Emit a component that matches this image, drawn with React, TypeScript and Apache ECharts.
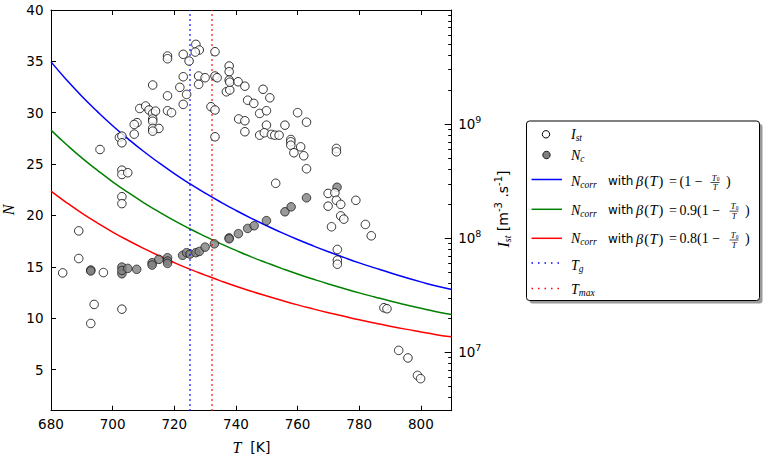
import React, { useEffect, useRef } from "react";
import * as echarts from "echarts";

// ---------------- data ----------------
const T_CURVE = [
  680, 685, 690, 695, 700, 705, 710, 715, 720, 725, 730, 735, 740, 745, 750,
  755, 760, 765, 770, 775, 780, 785, 790, 795, 800, 805, 810,
];
const N_CORR_B100 = [
  34.95, 33.22, 31.61, 30.13, 28.74, 27.46, 26.25, 25.13, 24.08, 23.1, 22.18,
  21.31, 20.49, 19.72, 19.0, 18.31, 17.66, 17.05, 16.47, 15.92, 15.39, 14.9,
  14.42, 13.97, 13.54, 13.13, 12.8,
];
const N_CORR_B090 = [
  28.31, 26.91, 25.6, 24.41, 23.28, 22.24, 21.26, 20.36, 19.5, 18.71, 17.97,
  17.26, 16.6, 15.97, 15.39, 14.83, 14.3, 13.81, 13.34, 12.9, 12.47, 12.07,
  11.68, 11.32, 10.97, 10.64, 10.37,
];
const N_CORR_B080 = [
  22.37, 21.26, 20.23, 19.28, 18.39, 17.57, 16.8, 16.08, 15.41, 14.78, 14.2,
  13.64, 13.11, 12.62, 12.16, 11.72, 11.3, 10.91, 10.54, 10.19, 9.85, 9.54,
  9.23, 8.94, 8.67, 8.4, 8.19,
];
const T_G = 725;
const T_MAX = 732;

// I_st [m^-3 s^-1] vs T [K]
const I_ST: [number, number][] = [
  [683.8, 4.97e7], [689.0, 1.16e8], [689.0, 6.64e7], [692.9, 1.79e7],
  [694.0, 2.63e7], [695.9, 5.99e8], [697.0, 5.0e7], [702.2, 7.64e8],
  [703.0, 7.85e8], [703.0, 6.86e8], [703.0, 3.95e8], [703.0, 3.62e8],
  [704.9, 3.75e8], [703.0, 2.31e8], [703.0, 2.01e8], [703.0, 2.39e7],
  [707.0, 8.17e8], [707.9, 1.03e9], [707.0, 9.93e8], [708.8, 1.37e9],
  [710.7, 1.44e9], [711.8, 1.33e9], [713.0, 1.24e9], [713.9, 1.3e9],
  [713.0, 1.11e9], [713.0, 1.06e9], [713.0, 9.16e8], [715.0, 9.16e8],
  [713.0, 8.68e8], [713.0, 2.2e9], [717.8, 1.77e9], [717.8, 1.31e9],
  [719.1, 1.26e9], [717.8, 3.95e9], [717.8, 3.74e9], [721.8, 2.1e9],
  [722.9, 2.6e9], [724.0, 1.82e9], [722.9, 1.49e9], [722.9, 4.09e9],
  [724.8, 3.57e9], [727.0, 5.0e9], [728.1, 4.46e9], [726.8, 4.28e9],
  [727.9, 2.64e9], [727.9, 2.23e9], [730.0, 2.55e9], [731.9, 1.42e9],
  [733.2, 1.33e9], [733.2, 7.74e8], [733.2, 4.31e9], [733.2, 2.64e9],
  [733.9, 2.55e9], [736.9, 1.92e9], [738.0, 1.99e9], [737.8, 3.23e9],
  [737.8, 2.88e9], [737.8, 2.43e9], [738.0, 2.33e9], [740.7, 2.35e9],
  [742.9, 2.15e9], [740.9, 1.11e9], [742.9, 1.07e9], [742.9, 8.57e8],
  [743.8, 1.62e9], [745.8, 1.52e9], [748.8, 2.02e9], [751.0, 1.7e9],
  [747.7, 1.24e9], [749.9, 1.31e9], [749.9, 9.79e8], [747.7, 8.0e8],
  [749.2, 8.4e8], [751.5, 8.12e8], [752.6, 8.0e8], [754.0, 8.0e8],
  [752.9, 3.03e8], [755.9, 9.79e8], [757.8, 7.33e8], [757.8, 7.0e8],
  [757.8, 6.54e8], [758.8, 5.61e8], [760.0, 1.26e9], [761.0, 6.32e8],
  [762.0, 5.28e8], [762.9, 1.04e9], [762.9, 4.06e8], [769.9, 2.47e8],
  [772.1, 2.5e8], [769.9, 1.91e8], [772.6, 6.12e8], [772.6, 5.72e8],
  [772.6, 2.15e8], [774.0, 1.98e8], [774.0, 1.57e8], [775.0, 1.47e8],
  [778.9, 2.15e8], [771.0, 1.26e8], [782.0, 1.32e8], [783.9, 1.05e8],
  [772.9, 7.97e7], [772.9, 6.42e7], [772.9, 5.92e7], [788.0, 2.46e7],
  [789.0, 2.41e7], [792.8, 1.04e7], [795.8, 8.93e6], [798.9, 6.28e6],
  [799.9, 5.88e6],
];

// N_c vs T [K]
const N_C: [number, number][] = [
  [692.9, 14.69], [692.9, 14.6], [703.0, 14.98], [703.0, 14.33],
  [703.0, 14.65], [704.9, 14.85], [707.8, 14.76], [712.8, 15.4],
  [712.8, 15.18], [715.0, 15.73], [717.8, 15.89], [717.8, 15.57],
  [717.8, 15.34], [722.7, 16.12], [724.0, 16.38], [725.1, 16.25],
  [727.0, 16.38], [728.1, 16.5], [730.0, 16.92], [733.0, 17.24],
  [737.8, 17.82], [737.8, 17.73], [740.8, 18.23], [743.8, 18.74],
  [745.9, 19.0], [749.9, 19.5], [755.9, 20.36], [757.9, 20.84],
  [762.9, 21.72], [772.8, 22.75],
];

// axes
const T_MIN = 680;
const T_MAX_AXIS = 810;
const X_TICKS = [680, 700, 720, 740, 760, 780, 800];
const N_MIN = 1;
const N_MAX = 40;
const N_TICKS = [5, 10, 15, 20, 25, 30, 35, 40];
const I_MIN = 3.08e6;
const I_MAX = 1e10;
const I_TICKS = [1e7, 1e8, 1e9];
const I_MINOR = [
  4e6, 5e6, 6e6, 7e6, 8e6, 9e6,
  2e7, 3e7, 4e7, 5e7, 6e7, 7e7, 8e7, 9e7,
  2e8, 3e8, 4e8, 5e8, 6e8, 7e8, 8e8, 9e8,
  2e9, 3e9, 4e9, 5e9, 6e9, 7e9, 8e9, 9e9,
];

// ---------------- styling ----------------
const SANS = "'DejaVu Sans', sans-serif";
const SERIF = "'Liberation Serif', 'Times New Roman', serif";
const BLUE = "#0000ff";
const GREEN = "#008000";
const RED = "#ff0000";

const richBase = {
  m: { fontFamily: SERIF, fontStyle: "italic", fontSize: 14, fill: "#000", color: "#000" },
  mb: { fontFamily: SERIF, fontStyle: "italic", fontSize: 14.5, fill: "#000", color: "#000" },
  r: { fontFamily: SERIF, fontStyle: "normal", fontSize: 14.5, padding: [0, 0.5, 0, 1], fill: "#000", color: "#000" },
  sub: { fontFamily: SERIF, fontStyle: "italic", fontSize: 9.5, padding: [7, 0, 0, 0], fill: "#000", color: "#000" },
};

function txt(x: number, y: number, text: string, opts: any = {}) {
  const align = opts.align || "left";
  const style: any = {
    text,
    fill: "#000",
    fontFamily: opts.fontFamily || SERIF,
    fontSize: opts.fontSize || 14,
    fontStyle: opts.fontStyle || "normal",
    align,
    textAlign: align,
    verticalAlign: "middle",
    textVerticalAlign: "middle",
    rich: opts.rich || richBase,
  };
  if (opts.lineHeight) style.lineHeight = opts.lineHeight;
  return {
    type: "text",
    x,
    y,
    rotation: opts.rotation || 0,
    z: 110,
    silent: true,
    style,
  };
}

function hline(x1: number, x2: number, y: number, color: string, width: number, dash?: number[]) {
  return {
    type: "line",
    z: 110,
    silent: true,
    shape: { x1, y1: y, x2, y2: y },
    style: { stroke: color, lineWidth: width, lineDash: dash || null },
  };
}

function fraction(cx: number, ty: number) {
  return [
    txt(cx - 1, ty - 3.6, "T", { align: "center", fontStyle: "italic", fontSize: 8.5, lineHeight: 7.5 }),
    txt(cx + 1.7, ty - 1.9, "0", { align: "left", fontSize: 5.5, lineHeight: 4.5 }),
    hline(cx - 4.5, cx + 4.5, ty + 1.2, "#000", 0.7),
    txt(cx, ty + 6, "T", { align: "center", fontStyle: "italic", fontSize: 8.5, lineHeight: 7.5 }),
  ];
}

function buildGraphic() {
  const g: any[] = [];
  // legend frame with shadow
  g.push({
    type: "rect", z: 100, silent: true,
    shape: { x: 529.5, y: 124, width: 233, height: 179.5, r: 3 },
    style: { fill: "#9a9a9a" },
  });
  g.push({
    type: "rect", z: 101, silent: true,
    shape: { x: 526.5, y: 121, width: 233, height: 179.5, r: 3 },
    style: { fill: "#fff", stroke: "#000", lineWidth: 1 },
  });
  // markers
  g.push({
    type: "circle", z: 110, silent: true,
    shape: { cx: 546, cy: 134.3, r: 3.7 },
    style: { fill: "#fff", stroke: "#000", lineWidth: 1 },
  });
  g.push({
    type: "circle", z: 110, silent: true,
    shape: { cx: 546.5, cy: 155, r: 3.7 },
    style: { fill: "#808080", stroke: "#1a1a1a", lineWidth: 1 },
  });
  g.push(hline(531.5, 562, 179.5, BLUE, 1.5));
  g.push(hline(531.5, 562, 209.3, GREEN, 1.5));
  g.push(hline(531.5, 562, 238.3, RED, 1.5));
  g.push(hline(531.5, 562, 263, BLUE, 1.5, [1.5, 5]));
  g.push(hline(531.5, 562, 288.5, RED, 1.5, [1.5, 5]));

  // legend texts
  g.push(txt(571, 134.5, "{m|I}{sub|st}"));
  g.push(txt(571, 155.5, "{m|N}{sub|c}"));
  const rows = [
    { ty: 181.3, coef: "(1 \u2212", fx: 715, px: 726 },
    { ty: 210, coef: "0.9(1 \u2212", fx: 734, px: 745 },
    { ty: 238.8, coef: "0.8(1 \u2212", fx: 734, px: 745 },
  ];
  rows.forEach((r) => {
    g.push(txt(571, r.ty, "{m|N}{sub|corr}"));
    g.push(txt(608, r.ty, "with", { fontFamily: SANS, fontSize: 12 }));
    g.push(txt(636, r.ty, "{mb|\u03b2}{r|(}{mb|T}{r|)}"));
    g.push(txt(669, r.ty, "=", { fontSize: 14 }));
    g.push(txt(679.5, r.ty, r.coef, { fontSize: 14 }));
    fraction(r.fx, r.ty).forEach((e) => g.push(e));
    g.push(txt(r.px, r.ty, ")", { fontSize: 14 }));
  });
  g.push(txt(571, 265.5, "{m|T}{sub|g}"));
  g.push(txt(571, 289, "{m|T}{sub|max}"));

  // axis titles
  g.push(
    txt(251.5, 447, "{it|T}  [K]", {
      align: "center",
      fontFamily: SANS,
      fontSize: 14,
      rich: { it: { fontFamily: SERIF, fontStyle: "italic", fontSize: 16, fill: "#000" } },
    })
  );
  g.push(
    txt(8, 210, "N", {
      align: "center",
      fontFamily: SERIF,
      fontStyle: "italic",
      fontSize: 16,
      rotation: Math.PI / 2,
    })
  );
  g.push(
    txt(503, 209, "{it|I}{sb|st} [m{sp|-3} .s{sp|-1}]", {
      align: "center",
      fontFamily: SANS,
      fontSize: 14,
      rotation: Math.PI / 2,
      rich: {
        it: { fontFamily: SERIF, fontStyle: "italic", fontSize: 16, fill: "#000" },
        sb: { fontFamily: SERIF, fontStyle: "italic", fontSize: 10, padding: [8, 0, 0, 0], fill: "#000" },
        sp: { fontFamily: SANS, fontSize: 10, padding: [0, 0, 10, 0], fill: "#000" },
      },
    })
  );
  return g;
}

const axisLine = { show: true, onZero: false, lineStyle: { color: "#000", width: 1 } };
const tickLine = { color: "#000", width: 1 };
const labelBase = { color: "#000", fontFamily: SANS, fontSize: 13.5 };

function buildOption() {
  const curve = (vals: number[], color: string, name: string) => ({
    type: "line",
    name,
    xAxisIndex: 0,
    yAxisIndex: 0,
    data: T_CURVE.map((t, i) => [t, vals[i]]),
    showSymbol: false,
    symbol: "none",
    smooth: true,
    silent: true,
    z: 3,
    lineStyle: { color, width: 1.5 },
  });
  const vline = (x: number, color: string, name: string) => ({
    type: "line",
    name,
    xAxisIndex: 0,
    yAxisIndex: 0,
    data: [],
    silent: true,
    z: 2,
    markLine: {
      silent: true,
      symbol: ["none", "none"],
      label: { show: false },
      lineStyle: { color, width: 1.5, type: [1.5, 3.5] },
      data: [{ xAxis: x }],
    },
  });
  return {
    animation: false,
    backgroundColor: "#fff",
    grid: { left: 51, top: 10, width: 400.7, height: 400.7, containLabel: false },
    xAxis: [
      {
        type: "value",
        position: "bottom",
        min: T_MIN,
        max: T_MAX_AXIS,
        interval: 20,
        axisLine,
        axisTick: { show: true, inside: true, length: 5, customValues: X_TICKS, lineStyle: tickLine },
        axisLabel: { ...labelBase, margin: 6, customValues: X_TICKS },
        splitLine: { show: false },
      },
      {
        type: "value",
        position: "top",
        min: T_MIN,
        max: T_MAX_AXIS,
        interval: 20,
        axisLine,
        axisTick: { show: true, inside: true, length: 5, customValues: X_TICKS, lineStyle: tickLine },
        axisLabel: { show: false },
        splitLine: { show: false },
      },
    ],
    yAxis: [
      {
        type: "value",
        position: "left",
        min: N_MIN,
        max: N_MAX,
        axisLine,
        axisTick: { show: true, inside: true, length: 5, customValues: N_TICKS, lineStyle: tickLine },
        axisLabel: { ...labelBase, margin: 7.5, customValues: N_TICKS },
        splitLine: { show: false },
      },
      {
        type: "log",
        logBase: 10,
        position: "right",
        min: I_MIN,
        max: I_MAX,
        axisLine,
        axisTick: { show: true, inside: true, length: 7, customValues: I_TICKS, lineStyle: tickLine },
        axisLabel: {
          ...labelBase,
          margin: 6.5,
          customValues: I_TICKS,
          formatter: (v: number) => "10{sup|" + Math.round(Math.log10(v)) + "}",
          rich: { sup: { color: "#000", fontFamily: SANS, fontSize: 9.5, padding: [0, 0, 10, 0] } },
        },
        splitLine: { show: false },
        minorTick: { show: false },
      },
      {
        type: "log",
        logBase: 10,
        position: "right",
        min: I_MIN,
        max: I_MAX,
        axisLine: { show: false },
        axisTick: { show: true, inside: true, length: 3.5, customValues: I_MINOR, lineStyle: tickLine },
        axisLabel: { show: false },
        splitLine: { show: false },
      },
    ],
    series: [
      vline(T_G, BLUE, "T_g"),
      vline(T_MAX, RED, "T_max"),
      curve(N_CORR_B100, BLUE, "N_corr (1-T0/T)"),
      curve(N_CORR_B090, GREEN, "N_corr 0.9(1-T0/T)"),
      curve(N_CORR_B080, RED, "N_corr 0.8(1-T0/T)"),
      {
        type: "scatter",
        name: "N_c",
        xAxisIndex: 0,
        yAxisIndex: 0,
        data: N_C,
        symbol: "circle",
        symbolSize: 8.5,
        silent: true,
        z: 4,
        itemStyle: { color: "#808080", borderColor: "#1a1a1a", borderWidth: 1 },
      },
      {
        type: "scatter",
        name: "I_st",
        xAxisIndex: 0,
        yAxisIndex: 1,
        data: I_ST,
        symbol: "circle",
        symbolSize: 8.5,
        silent: true,
        z: 5,
        itemStyle: { color: "#ffffff", borderColor: "#000", borderWidth: 1 },
      },
    ],
    graphic: buildGraphic(),
  };
}

export default function App() {
  const ref = useRef<HTMLDivElement>(null);
  useEffect(() => {
    if (!ref.current) return;
    const chart = echarts.init(ref.current, null, { renderer: "svg" });
    chart.setOption(buildOption() as any);
    return () => chart.dispose();
  }, []);
  return (
    <div
      ref={ref}
      style={{ position: "fixed", left: 0, top: 0, width: 765, height: 459, background: "#fff" }}
    />
  );
}
